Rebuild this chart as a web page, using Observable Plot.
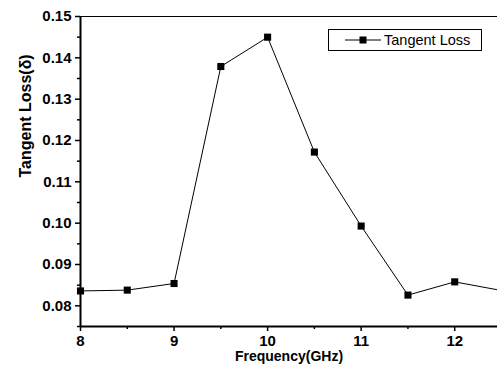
<!DOCTYPE html>
<html>
<head>
<meta charset="utf-8">
<script src="https://cdn.jsdelivr.net/npm/d3@7"></script>
<script src="https://cdn.jsdelivr.net/npm/@observablehq/plot@0.6"></script>
<style>
  html, body { margin: 0; padding: 0; background: white; overflow: hidden; }
  #wrap { position: relative; width: 497px; height: 373px; }
  #legend { position: absolute; left: 328px; top: 29px; width: 152px; height: 20px;
    border: 1px solid #000; background: white; box-sizing: content-box;
    font-family: "Liberation Sans", Arial, sans-serif; font-size: 14.5px; color: #000;
    display: flex; align-items: center; }
  #legend svg { margin-left: 16px; margin-right: 3px; }
</style>
</head>
<body>
<div id="wrap"></div>
<script>
const seriesName = "Tangent Loss";
const frequency = [8, 8.5, 9, 9.5, 10, 10.5, 11, 11.5, 12, 12.5];
const tangentLoss = [0.0836, 0.0838, 0.0854, 0.1379, 0.1450, 0.1172, 0.0993, 0.0826, 0.0858, 0.0837];
const xTicks = [8, 9, 10, 11, 12];
const xMinor = [8.5, 9.5, 10.5, 11.5, 12.5];
const yTicks = [0.08, 0.09, 0.10, 0.11, 0.12, 0.13, 0.14, 0.15];
const yMinor = [0.075, 0.085, 0.095, 0.105, 0.115, 0.125, 0.135, 0.145];
const xTitle = "Frequency(GHz)";
const yTitle = "Tangent Loss(δ)";

const data = frequency.map((f, i) => ({f, v: tangentLoss[i]}));
const font = "'Liberation Sans', Arial, sans-serif";

const chart = Plot.plot({
  width: 497,
  height: 373,
  marginLeft: 80,
  marginTop: 16,
  marginBottom: 47,
  marginRight: 0,
  style: {fontFamily: font, fontSize: "15px", fontWeight: "bold", color: "#000", background: "white", overflow: "hidden"},
  x: {domain: [8, 12.5], range: [80, 501]},
  y: {domain: [0.075, 0.15], range: [326, 16]},
  marks: [
    Plot.axisX(xTicks, {tickSize: 5, tickPadding: 4, tickFormat: d => String(d), label: null, strokeWidth: 1.5, fontSize: 15, fontWeight: "bold", fill: "#000"}),
    Plot.axisX(xMinor, {tickSize: 3, tickFormat: () => "", label: null, strokeWidth: 1.5}),
    Plot.axisY(yTicks, {tickSize: 5, tickPadding: 4, tickFormat: d3.format(".2f"), label: null, strokeWidth: 1.5, fontSize: 15, fontWeight: "bold", fill: "#000"}),
    Plot.axisY(yMinor, {tickSize: 3, tickFormat: () => "", label: null, strokeWidth: 1.5}),
    Plot.ruleY([0.15], {stroke: "#000", strokeWidth: 1.2}),
    Plot.ruleX([8], {stroke: "#000", strokeWidth: 2}),
    Plot.ruleY([0.075], {stroke: "#000", strokeWidth: 2}),
    Plot.line(data, {x: "f", y: "v", stroke: "#000", strokeWidth: 1}),
    Plot.dot(data, {x: "f", y: "v", symbol: "square", r: 4, fill: "#000", stroke: "none"}),
    Plot.text([xTitle], {frameAnchor: "bottom", dy: 34, fontSize: 14, fontWeight: "bold", fill: "#000"}),
    Plot.text([yTitle], {frameAnchor: "left", dx: -55, dy: 6, rotate: -90, fontSize: 16, fontWeight: "bold", fill: "#000"})
  ]
});
const wrap = document.getElementById("wrap");
wrap.appendChild(chart);

const legend = document.createElement("div");
legend.id = "legend";
legend.innerHTML = `<svg width="36" height="10"><line x1="0" y1="5" x2="36" y2="5" stroke="#000" stroke-width="1"/><rect x="14.5" y="1.5" width="7" height="7" fill="#000"/></svg><span>${seriesName}</span>`;
wrap.appendChild(legend);
</script>
</body>
</html>
